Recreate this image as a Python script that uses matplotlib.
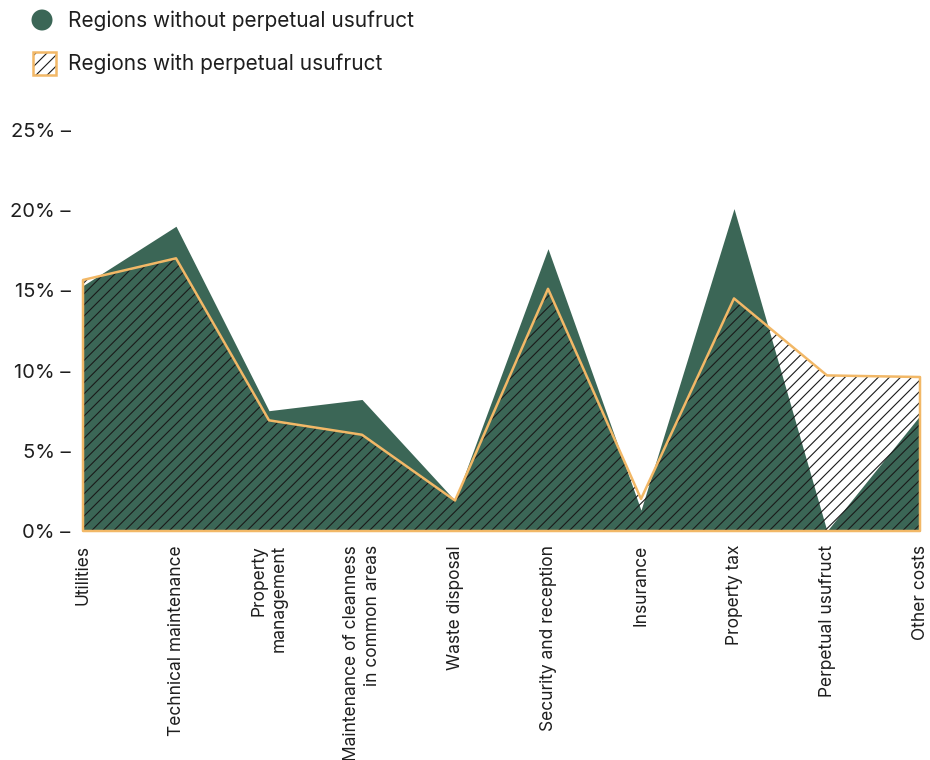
import matplotlib.pyplot as plt
from matplotlib.patches import Ellipse, Rectangle
import numpy as np

plt.rcParams["font.family"] = ["Inter", "DejaVu Sans"]
plt.rcParams["hatch.linewidth"] = 0.8

categories = [
    "Utilities",
    "Technical maintenance",
    "Property\nmanagement",
    "Maintenance of cleanness\nin common areas",
    "Waste disposal",
    "Security and reception",
    "Insurance",
    "Property tax",
    "Perpetual usufruct",
    "Other costs",
]
without_usufruct = [15.3, 19.0, 7.5, 8.2, 1.9, 17.6, 1.3, 20.1, 0.0, 7.2]
with_usufruct = [15.65, 17.0, 6.9, 6.0, 1.9, 15.1, 2.0, 14.5, 9.7, 9.6]
y_ticks = [0, 5, 10, 15, 20, 25]

GREEN = "#3b6656"
ORANGE = "#f2b867"
TEXT = "#1e1e1e"

W, H = 930, 760
fig = plt.figure(figsize=(W / 100, H / 100), dpi=100)
ax = fig.add_axes([83 / W, 229 / H, 837 / W, 401 / H])

x = np.arange(len(categories))
ax.fill_between(x, without_usufruct, color=GREEN, linewidth=0)
ax.fill_between(x, with_usufruct, facecolor="none", edgecolor="#1a1a1a",
                hatch="///", linewidth=0)
ax.fill_between(x, with_usufruct, facecolor="none", edgecolor=ORANGE,
                linewidth=1.8, clip_on=False, zorder=3)

ax.set_xlim(0, len(categories) - 1)
ax.set_ylim(0, 25)
ax.set_yticks(y_ticks)
ax.set_yticklabels([f"{t}% \u2013" for t in y_ticks], fontsize=14.5, color=TEXT)
ax.set_xticks(x)
ax.set_xticklabels(categories, rotation=90, fontsize=12.5, color=TEXT,
                   va="top", ha="center", multialignment="right",
                   linespacing=1.3)
ax.tick_params(axis="both", length=0)
ax.tick_params(axis="y", pad=9)
ax.tick_params(axis="x", pad=10)
for s in ax.spines.values():
    s.set_visible(False)

# legend drawn in pixel space
fig.add_artist(Ellipse((42 / W, (H - 20) / H), 21 / W, 21 / H,
                       transform=fig.transFigure, facecolor=GREEN,
                       edgecolor="none"))
fig.patches.append(Rectangle((33 / W, (H - 75) / H), 23 / W, 23 / H,
                             transform=fig.transFigure, facecolor="white",
                             edgecolor="#1a1a1a", hatch="///", linewidth=0))
fig.patches.append(Rectangle((33 / W, (H - 75) / H), 23 / W, 23 / H,
                             transform=fig.transFigure, fill=False,
                             edgecolor=ORANGE, linewidth=1.8))
fig.text(68 / W, (H - 21) / H, "Regions without perpetual usufruct",
         fontsize=15, color=TEXT, va="center")
fig.text(68 / W, (H - 64) / H, "Regions with perpetual usufruct",
         fontsize=15, color=TEXT, va="center")

fig.savefig("out.png", dpi=100)
